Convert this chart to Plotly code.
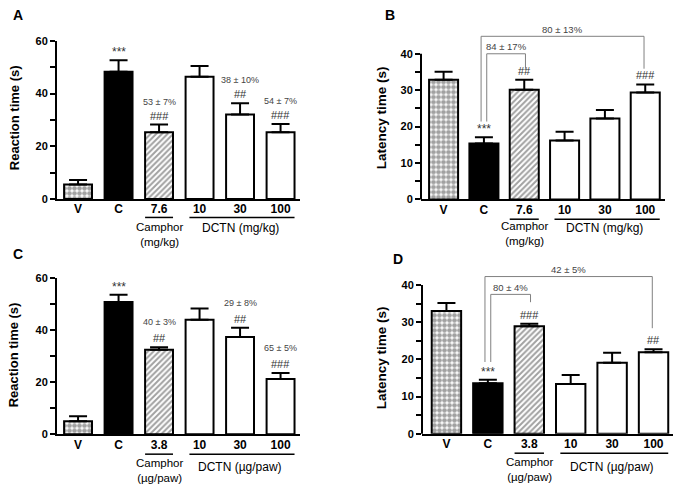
import plotly.graph_objects as go

W, H = 680, 495
FONT = "Liberation Sans, Arial, sans-serif"

# ---------------- data ----------------
cats_A = ["V", "C", "7.6", "10", "30", "100"]
mean_A = [5.5, 48.3, 25.3, 46.4, 32.0, 25.3]
sem_A = [1.7, 4.3, 2.9, 4.0, 4.3, 3.1]
sig_A = ["", "***", "###", "", "##", "###"]
pct_A = ["", "", "53 ± 7%", "", "38 ± 10%", "54 ± 7%"]

cats_B = ["V", "C", "7.6", "10", "30", "100"]
mean_B = [32.9, 15.4, 30.1, 16.2, 22.2, 29.4]
sem_B = [2.2, 1.7, 2.8, 2.4, 2.4, 2.2]
sig_B = ["", "***", "##", "", "", "###"]
pct_B = ["", "", "", "", "", ""]

cats_C = ["V", "C", "3.8", "10", "30", "100"]
mean_C = [5.0, 50.9, 32.5, 44.0, 37.4, 21.3]
sem_C = [2.0, 2.8, 1.0, 4.4, 3.6, 2.3]
sig_C = ["", "***", "##", "", "##", "###"]
pct_C = ["", "", "40 ± 3%", "", "29 ± 8%", "65 ± 5%"]

cats_D = ["V", "C", "3.8", "10", "30", "100"]
mean_D = [33.0, 13.6, 28.9, 13.4, 19.1, 21.9]
sem_D = [2.2, 0.9, 0.7, 2.4, 2.7, 0.8]
sig_D = ["", "***", "###", "", "", "##"]
pct_D = ["", "", "", "", "", ""]

# brackets: (left cat idx, right cat idx, top, left bottom, right bottom, label)
brackets_B = [(1, 5, 44.8, 21.4, 35.9, "80 ± 13%"),
              (1, 2, 40.0, 21.4, 35.9, "84 ± 17%")]
brackets_D = [(1, 5, 42.3, 19.3, 28.4, "42 ± 5%"),
              (1, 2, 37.5, 19.3, 35.4, "80 ± 4%")]

# bar styles: V checker, C black, camphor hatch, DCTN white
bar_colors = ["white", "black", "white", "white", "white", "white"]
pat_shapes = [".", "", "/", "", "", ""]

panels = [
    dict(letter="A", ax="", cats=cats_A, mean=mean_A, sem=sem_A, sig=sig_A, pct=pct_A,
         brackets=[], ytitle="Reaction time (s)", yr=[0, 60], ymax_line=60,
         major=[0, 20, 40, 60], minor=[10, 30, 50],
         xdom=[57, 300], ydom=[197.7, 35.7], xr=[-0.52, 5.48], bw=0.69,
         unit="(mg/kg)", dunit="DCTN (mg/kg)",
         uline_y=216.7, camph_y=234, dctn_y=228,
         letter_xy=(18, 9), ytitle_xy=(14, 115), pct_shift=23, ytfs=13),
    dict(letter="B", ax="2", cats=cats_B, mean=mean_B, sem=sem_B, sig=sig_B, pct=pct_B,
         brackets=brackets_B, ytitle="Latency time (s)", yr=[0, 48], ymax_line=40,
         major=[0, 10, 20, 30, 40], minor=[5, 15, 25, 35],
         xdom=[421, 665], ydom=[198.3, 19.1], xr=[-0.56, 5.49], bw=0.72,
         unit="(mg/kg)", dunit="DCTN (mg/kg)",
         uline_y=218.5, camph_y=233, dctn_y=228,
         letter_xy=(390, 9), ytitle_xy=(381, 115), pct_shift=0, ytfs=13.5),
    dict(letter="C", ax="3", cats=cats_C, mean=mean_C, sem=sem_C, sig=sig_C, pct=pct_C,
         brackets=[], ytitle="Reaction time (s)", yr=[0, 60], ymax_line=60,
         major=[0, 20, 40, 60], minor=[10, 30, 50],
         xdom=[57, 300], ydom=[439, 279], xr=[-0.52, 5.48], bw=0.69,
         unit="(µg/paw)", dunit="DCTN (µg/paw)",
         uline_y=459.3, camph_y=476.5, dctn_y=472.5,
         letter_xy=(18, 254), ytitle_xy=(13, 358), pct_shift=25, ytfs=13),
    dict(letter="D", ax="4", cats=cats_D, mean=mean_D, sem=sem_D, sig=sig_D, pct=pct_D,
         brackets=brackets_D, ytitle="Latency time (s)", yr=[0, 46], ymax_line=40,
         major=[0, 10, 20, 30, 40], minor=[5, 15, 25, 35],
         xdom=[422, 673], ydom=[438.3, 263.2], xr=[-0.59, 5.47], bw=0.71,
         unit="(µg/paw)", dunit="DCTN (µg/paw)",
         uline_y=458.3, camph_y=475.5, dctn_y=472.3,
         letter_xy=(398, 259), ytitle_xy=(381, 361), pct_shift=0, ytfs=13.5),
]

fig = go.Figure()
shapes = []
annotations = []
layout_axes = {}


def py(p):
    return 1 - p / H


for p in panels:
    a = p["ax"]
    xname, yname = "x" + a, "y" + a
    xl, yl = "xaxis" + a, "yaxis" + a
    tops = [m + s for m, s in zip(p["mean"], p["sem"])]
    idx = list(range(len(p["cats"])))

    fig.add_trace(go.Bar(
        x=p["cats"], y=p["mean"], xaxis=xname, yaxis=yname, width=p["bw"],
        marker=dict(color=bar_colors, line=dict(color="black", width=2),
                    pattern=dict(shape=pat_shapes, fgcolor="black", bgcolor="white",
                                 size=[5, 6, 4, 6, 6, 6], solidity=[0.7, 0.3, 0.5, 0.3, 0.3, 0.3],
                                 fillmode="overlay")),
        error_y=dict(type="data", symmetric=False, array=p["sem"], arrayminus=[0] * 6,
                     color="black", thickness=2, width=9),
        showlegend=False, hoverinfo="skip",
    ))

    layout_axes[xl] = dict(
        domain=[p["xdom"][0] / W, p["xdom"][1] / W], range=p["xr"], type="category",
        categoryorder="array", categoryarray=p["cats"], anchor=yname,
        showline=True, linecolor="black", linewidth=2, ticks="", ticklen=0,
        ticklabelstandoff=-2, showgrid=False,
        zeroline=False, tickfont=dict(family=FONT, size=12, color="black", weight="bold"),
    )
    full_line = p["yr"][1] == p["ymax_line"]
    layout_axes[yl] = dict(
        domain=[py(p["ydom"][0]), py(p["ydom"][1])], range=p["yr"], anchor=xname,
        showline=full_line, linecolor="black", linewidth=2,
        tickmode="array", tickvals=p["major"], ticks="outside", ticklen=5, tickwidth=2,
        tickcolor="black", showgrid=False, zeroline=False,
        tickfont=dict(family=FONT, size=11, color="black", weight="bold"),
        minor=dict(tickmode="array", tickvals=p["minor"], ticks="outside", ticklen=5,
                   tickwidth=2, tickcolor="black", showgrid=False),
    )
    if not full_line:
        shapes.append(dict(type="line", xref=xname + " domain", yref=yname + " domain",
                           x0=0, x1=0, y0=0, y1=p["ymax_line"] / p["yr"][1],
                           line=dict(color="black", width=2)))

    # significance marks (x given as category index)
    for i, t, s in zip(idx, tops, p["sig"]):
        if s:
            star = s.startswith("*")
            annotations.append(dict(xref=xname, yref=yname, x=i, y=t, text=s,
                                    showarrow=False, yanchor="bottom",
                                    yshift=-1 if star else 1,
                                    font=dict(family=FONT, size=12 if star else 11,
                                              color="#333")))
    for i, t, s in zip(idx, tops, p["pct"]):
        if s:
            annotations.append(dict(xref=xname, yref=yname, x=i, y=t, text=s,
                                    showarrow=False, yanchor="middle", yshift=p["pct_shift"],
                                    font=dict(family=FONT, size=9, color="#444")))

    # brackets
    for (l, r, top, lb, rb, lab) in p["brackets"]:
        off = 0.07 if r == 2 else -0.07
        xl0 = l + off
        xr0 = r + (0.03 if r == 2 else -0.03)
        shapes.append(dict(type="path", xref=xname, yref=yname,
                           path=f"M {xl0},{lb} L {xl0},{top} L {xr0},{top} L {xr0},{rb}",
                           line=dict(color="#808080", width=1)))
        annotations.append(dict(xref=xname, yref=yname, x=(xl0 + xr0) / 2, y=top, text=lab,
                                showarrow=False, yanchor="middle", yshift=7,
                                font=dict(family=FONT, size=9.5, color="#444")))

    # group labels below axis
    r0, r1 = p["xr"]

    def fr(v):
        return (v - r0) / (r1 - r0)

    half = p["bw"] / 2
    shapes.append(dict(type="line", xref=xname + " domain", yref="paper",
                       x0=fr(2 - half), x1=fr(2 + half), y0=py(p["uline_y"]), y1=py(p["uline_y"]),
                       line=dict(color="black", width=1.5)))
    shapes.append(dict(type="line", xref=xname + " domain", yref="paper",
                       x0=fr(3 - 0.25), x1=fr(5 + half), y0=py(p["uline_y"]), y1=py(p["uline_y"]),
                       line=dict(color="black", width=1.5)))
    annotations.append(dict(xref=xname, yref="paper", x=2, y=py(p["camph_y"]),
                            text="Camphor<br>" + p["unit"], showarrow=False, yanchor="middle",
                            font=dict(family=FONT, size=11.5, color="black")))
    annotations.append(dict(xref=xname, yref="paper", x=4, y=py(p["dctn_y"]),
                            text=p["dunit"], showarrow=False, yanchor="middle",
                            font=dict(family=FONT, size=12, color="black")))

    # y title & panel letter
    tx, ty = p["ytitle_xy"]
    annotations.append(dict(xref="paper", yref="paper", x=tx / W, y=py(ty), text=p["ytitle"],
                            textangle=-90, showarrow=False, xanchor="center", yanchor="middle",
                            font=dict(family=FONT, size=p["ytfs"], color="black", weight="bold")))
    lx, ly = p["letter_xy"]
    annotations.append(dict(xref="paper", yref="paper", x=lx / W, y=py(ly), text=p["letter"],
                            showarrow=False, xanchor="center", yanchor="middle",
                            font=dict(family=FONT, size=14, color="black", weight="bold")))

fig.update_layout(
    width=W, height=H, autosize=False,
    margin=dict(l=0, r=0, t=0, b=0),
    paper_bgcolor="white", plot_bgcolor="white",
    showlegend=False, bargap=0.3,
    shapes=shapes, annotations=annotations,
    **layout_axes,
)

page_fix = (
    "document.documentElement.style.margin='0';"
    "document.documentElement.style.padding='0';"
    "document.documentElement.style.overflow='hidden';"
    "document.body.style.margin='0';"
    "document.body.style.padding='0';"
    "document.body.style.overflow='hidden';"
    "var d=document.getElementsByClassName('plotly-graph-div')[0];"
    "d.style.position='absolute';d.style.left='0px';d.style.top='0px';"
)
fig.write_html("out.html", post_script=page_fix, config={"displayModeBar": False})
